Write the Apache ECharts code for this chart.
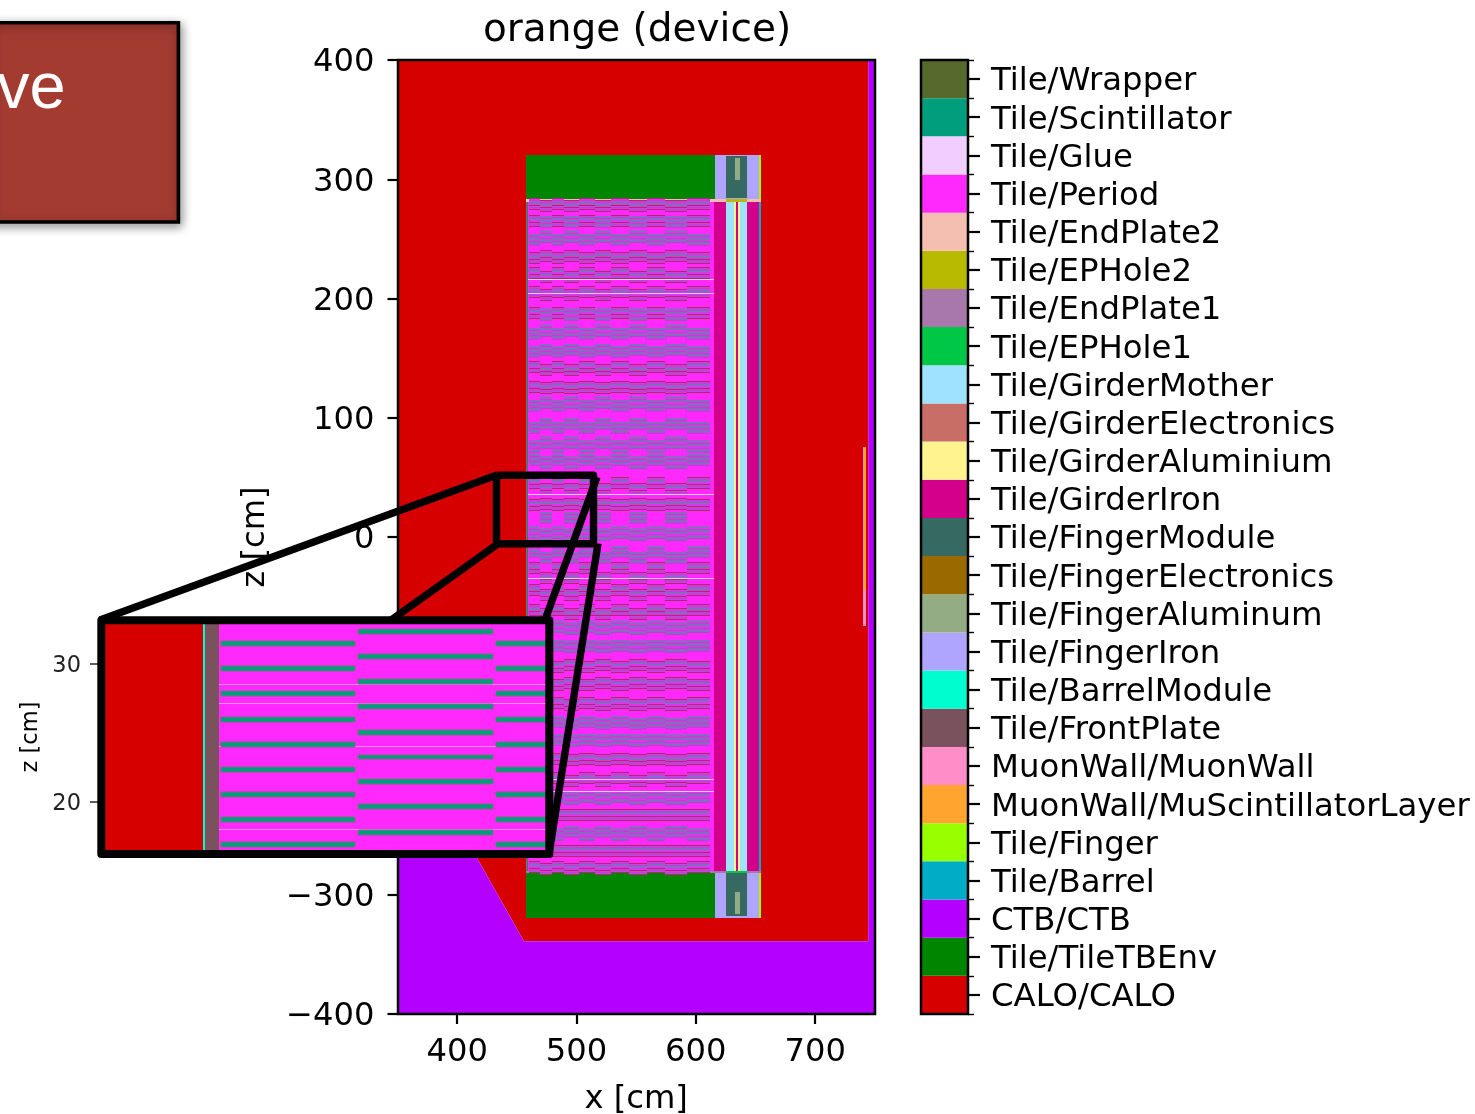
<!DOCTYPE html>
<html>
<head>
<meta charset="utf-8">
<style>html,body{margin:0;padding:0;background:#fff;overflow:hidden}#c{width:1475px;height:1114px}</style>
<script src="https://cdn.jsdelivr.net/npm/echarts@6/dist/echarts.min.js"></script>
</head>
<body>
<div id="c"></div>
<script>
// Colour bar, bottom to top
const materials = ['CALO/CALO','Tile/TileTBEnv','CTB/CTB','Tile/Barrel','Tile/Finger','MuonWall/MuScintillatorLayer','MuonWall/MuonWall','Tile/FrontPlate','Tile/BarrelModule','Tile/FingerIron','Tile/FingerAluminum','Tile/FingerElectronics','Tile/FingerModule','Tile/GirderIron','Tile/GirderAluminium','Tile/GirderElectronics','Tile/GirderMother','Tile/EPHole1','Tile/EndPlate1','Tile/EPHole2','Tile/EndPlate2','Tile/Period','Tile/Glue','Tile/Scintillator','Tile/Wrapper'];
const materialColors = ['#d60000','#008500','#b300ff','#00acc6','#97ff00','#ffa52f','#ff8ec8','#79525e','#00fdcf','#afa5ff','#93ac83','#9a6900','#366962','#d3008c','#fdf490','#c86e66','#9ee2ff','#00c846','#a877ac','#b8ba01','#f4bfb1','#ff28fd','#f2cdff','#009e7c','#566a2e'];
const shades = {teal:'#3c9a9a', purple:'#a64fc4', red:'#b02a6a', edgeA:'#1e9b6e', edgeB:'#a0408c', tint:'#d838ea', seam:'#fb8dfb'};

// Main view outlines [x, z]
const caloPolygon = [[350,400],[744.5,400],[744.5,-339],[456,-339],[350,-151]];
const ctbPolygon = [[350,-151],[456,-339],[744.5,-339],[744.5,400],[750,400],[750,-400],[350,-400]];

// Main view solids [x0, x1, z0, z1, material]
const solids = [
 [457.8,616.2,283.6,320.3,'Tile/TileTBEnv'],
 [457.8,616.2,-319.2,-282,'Tile/TileTBEnv'],
 [616.2,653.2,283.6,320.3,'Tile/FingerIron'],
 [616.2,653.2,-319.2,-282,'Tile/FingerIron'],
 [625.5,643,284,319.5,'Tile/FingerModule'],
 [625.5,643,-317.5,-282,'Tile/FingerModule'],
 [633,637.3,299,318,'Tile/FingerAluminum'],
 [633,637.3,-316,-298,'Tile/FingerAluminum'],
 [653.2,654.8,283.6,320.3,'Tile/Finger'],
 [653.2,654.8,-319.2,-282,'Tile/Finger'],
 [457.8,654.8,281.2,283.6,'Tile/EndPlate2'],
 [625.5,643,281.2,283.6,'Tile/EPHole2'],
 [457.8,654.8,-282,-279.7,'Tile/EndPlate1'],
 [625.5,643,-282,-279.7,'Tile/EPHole1'],
 [459.5,615.4,-279.7,281.2,'Tile/Period'],
 [615.4,625.5,-279.7,281.2,'Tile/GirderIron'],
 [625.5,643,-279.7,281.2,'Tile/GirderMother'],
 [632.2,633.5,-279.7,281.2,'Tile/GirderAluminium'],
 [633.5,635.2,-279.7,281.2,'Tile/GirderIron'],
 [635.2,637,-279.7,281.2,'Tile/GirderAluminium'],
 [643,653.2,-279.7,281.2,'Tile/GirderIron'],
 [653.2,654.8,-279.7,281.2,'Tile/Barrel'],
 [740.3,742.6,-74.6,75.5,'MuonWall/MuonWall'],
 [741,742.6,-44.4,75.5,'MuonWall/MuScintillatorLayer']
];
const mainEdgeStrips = [[457.8,458.6,-279.7,281.2,'edgeA'],[458.6,459.5,-279.7,281.2,'edgeB']];
const glueSeams = [215.7,204,35.8,-34.8,-203,-213];

// Main view scintillator columns (x edges, cm) and line groups (z centres, cm)
const columnsA = [[460.1,469.6],[479.6,489.9],[502.5,515.7],[528.9,543.6],[559.1,573.8],[592.6,612.1]];
const columnsB = [[469.6,479.6],[489.9,502.5],[515.7,528.9],[543.6,559.1],[573.8,592.6]];
const groupsA = [279.2,265,249,234,221.4,205.5,187.8,170.2,155.1,142.6,125.8,109.9,91.5,75.5,64.6,45.3,26.8,3.4,-12.6,-26,-44.4,-61.2,-75.5,-91.4,-109,-124.1,-139.2,-155.1,-170.2,-186.2,-202.1,-218,-233.1,-249.9,-263.3,-276.7];
const groupsB = [277.6,264.2,251.6,235.6,218,202.9,186.2,172.7,156.8,140,124.9,112.4,94.8,78.8,62.1,40.3,27.7,15.9,1.7,-17.6,-34.4,-48.6,-64.6,-77.1,-92.2,-107.3,-122.4,-140.9,-156.8,-171.1,-187,-204.6,-219.7,-233.1,-247.4,-263.3,-278.4];
const toneA = [1,1,0,1,1,1,1,0,0,1,1,0,0,0,0,1,1,0,0,1,1,1,0,0,1,1,1,0,0,1,1,0,1,0,1,1];
const toneB = [1,0,0,1,1,1,0,0,0,1,1,0,0,0,0,1,1,0,0,0,1,1,1,0,0,1,1,1,0,0,1,1,0,1,0,1,1];
const groupLineOffsets = [-4.55,-2.73,-0.91,0.91,2.73,4.55];
const toneShades = [['purple','teal','purple','teal','purple','teal'],['red','purple','red','teal','purple','red']];

// Inset solids and rows
const insetSolids = [
 [450.6,458,16.23,33.19,'CALO/CALO'],
 [458,458.145,16.23,33.19,'Tile/BarrelModule'],
 [458.145,459.16,16.23,33.19,'Tile/FrontPlate'],
 [459.16,483.07,16.23,33.19,'Tile/Period']
];
const insetSeamZ = [28.5,27.12,24,18.04];
const insetColumnsA = [[459.3,469],[479.2,483.07]];
const insetColumnsB = [[469.2,479]];
const insetRowsA = [31.47,29.64,27.83,26.01,24.2,22.37,20.56,18.75,16.9];
const insetRowsB = [32.39,30.56,28.75,26.9,25.07,23.26,21.45,19.64,17.8];
const insetRowThickness = 0.36;

const colorOf = Object.fromEntries(materials.map((m,i)=>[m,materialColors[i]]));
const FONT = 'DejaVu Sans';

// Assemble rectangle tables
const mainRows = solids.map(r=>[r[0],r[1],r[2],r[3],colorOf[r[4]]]);
mainEdgeStrips.forEach(r=>mainRows.push([r[0],r[1],r[2],r[3],shades[r[4]]]));
function addGroups(groups, tones, cols){
  groups.forEach((z,i)=>{
    cols.forEach(c=>mainRows.push([c[0],c[1],z-5,z+5,shades.tint]));
    groupLineOffsets.forEach((o,k)=>{
      cols.forEach(c=>mainRows.push([c[0],c[1],z+o-0.4,z+o+0.4,shades[toneShades[tones[i]][k]],1]));
    });
  });
}
addGroups(groupsA,toneA,columnsA);
addGroups(groupsB,toneB,columnsB);
glueSeams.forEach(z=>mainRows.push([459.5,615.4,z-0.4,z+0.4,colorOf['Tile/Glue'],1]));

const insetRows = insetSolids.map(r=>[r[0],r[1],r[2],r[3],colorOf[r[4]]]);
insetSeamZ.forEach(z=>insetRows.push([459.16,483.07,z-0.03,z+0.03,shades.seam,1]));
insetRowsA.forEach(z=>insetColumnsA.forEach(c=>insetRows.push([c[0],c[1],z-insetRowThickness/2,z+insetRowThickness/2,colorOf['Tile/Scintillator'],2])));
insetRowsB.forEach(z=>insetColumnsB.forEach(c=>insetRows.push([c[0],c[1],z-insetRowThickness/2,z+insetRowThickness/2,colorOf['Tile/Scintillator'],2])));

function rectRenderer(rows){
  return function(p, api){
    const r = rows[p.dataIndex];
    const a = api.coord([r[0],r[3]]), b = api.coord([r[1],r[2]]);
    let x0=Math.round(a[0]), x1=Math.round(b[0]), y0=Math.round(a[1]), y1=Math.round(b[1]);
    if(x1<=x0) x1=x0+1;
    if(y1<=y0) y1=y0+1;
    const cs=p.coordSys;
    const shape=echarts.graphic.clipRectByRect({x:x0,y:y0,width:x1-x0,height:y1-y0},{x:cs.x,y:cs.y,width:cs.width,height:cs.height});
    if(!shape) return null;
    const style={fill:r[4]};
    if(r[5]===2){style.stroke='#7f6a80';style.lineWidth=1;}
    return {type:'rect',shape,style,silent:true};
  };
}
function rectSeries(rows,gi,z){
  return {type:'custom',xAxisIndex:gi,yAxisIndex:gi,z,silent:true,animation:false,
    renderItem:rectRenderer(rows),
    encode:{x:[0,1],y:[2,3]},
    data:rows.map(r=>[r[0],r[1],r[2],r[3]])};
}
function polySeries(points,color,z){
  return {type:'custom',xAxisIndex:0,yAxisIndex:0,z,silent:true,animation:false,
    renderItem:function(p,api){
      if(p.dataIndex!==0) return null;
      return {type:'polygon',shape:{points:points.map(q=>api.coord(q))},style:{fill:color}};
    },
    encode:{x:0,y:1},
    data:points};
}
const minus = v=>'{a|'+String(v).replace('-','\u2212')+'}';
const black = '#000';
const chart = echarts.init(document.getElementById('c'),null,{renderer:'canvas',width:1475,height:1114});
const LW=7.4;
const richLabel=(size,color,top)=>({a:{fontFamily:FONT,fontSize:size,color,padding:[top,0,0,0]}});
chart.setOption({
  animation:false,
  backgroundColor:'#fff',
  textStyle:{fontFamily:FONT},
  title:{text:'orange (device)',left:632,top:6,textAlign:'center',textStyle:{fontFamily:FONT,fontSize:39,fontWeight:'normal',color:black}},
  grid:[
    {left:397.5,top:60,width:477.3,height:954,containLabel:false,outerBoundsMode:'none'},
    {left:101,top:620,width:448,height:234,containLabel:false,outerBoundsMode:'none'},
    {left:921,top:60,width:47,height:954,containLabel:false,outerBoundsMode:'none'}
  ],
  xAxis:[
    {gridIndex:0,type:'value',min:350,max:750,z:3,name:'x [cm]',nameLocation:'middle',nameGap:70,
     nameTextStyle:{fontFamily:FONT,fontSize:32.2,color:black},
     axisLine:{show:false,onZero:false},splitLine:{show:false},
     axisTick:{show:true,length:10,lineStyle:{color:black,width:2.2},customValues:[400,500,600,700]},
     axisLabel:{fontFamily:FONT,fontSize:32.2,color:black,margin:23,customValues:[400,500,600,700]}},
    {gridIndex:1,type:'value',min:450.6,max:483.07,show:false},
    {gridIndex:2,type:'value',min:0,max:1,show:false}
  ],
  yAxis:[
    {gridIndex:0,type:'value',min:-400,max:400,interval:100,z:3,name:'z [cm]',nameLocation:'middle',nameGap:126,nameRotate:90,
     nameTextStyle:{fontFamily:FONT,fontSize:32.2,color:black},
     axisLine:{show:false,onZero:false},splitLine:{show:false},
     axisTick:{show:true,length:10,lineStyle:{color:black,width:2.2}},
     axisLabel:{margin:23,formatter:minus,rich:richLabel(32.2,black,6)}},
    {gridIndex:1,type:'value',min:16.23,max:33.19,z:21,name:'z [cm]',nameLocation:'middle',nameGap:58,nameRotate:90,
     nameTextStyle:{fontFamily:FONT,fontSize:22.5,color:black},
     axisLine:{show:false,onZero:false},splitLine:{show:false},
     axisTick:{show:true,length:11,lineStyle:{color:'#333',width:1.6},customValues:[20,30]},
     axisLabel:{margin:20,formatter:minus,rich:richLabel(22.5,'#222',4),customValues:[20,30]}},
    {gridIndex:2,type:'category',data:materials,position:'right',z:3,
     axisLine:{show:false,onZero:false},
     axisTick:{show:true,alignWithLabel:true,length:12,lineStyle:{color:black,width:2.2}},
     axisLabel:{margin:23,interval:0,formatter:'{a|{value}}',rich:richLabel(32.35,black,6)}},
    {gridIndex:2,type:'value',min:0,max:25,interval:1,position:'right',z:3,
     axisLine:{show:false,onZero:false},splitLine:{show:false},
     axisTick:{show:true,length:6,lineStyle:{color:black,width:1.4}},
     axisLabel:{show:false}}
  ],
  series:[
    polySeries(caloPolygon,colorOf['CALO/CALO'],2),
    polySeries(ctbPolygon,colorOf['CTB/CTB'],2),
    rectSeries(mainRows,0,2),
    rectSeries(insetRows,1,20),
    {type:'bar',xAxisIndex:2,yAxisIndex:2,barWidth:'100%',z:2,silent:true,animation:false,
     data:materials.map((m,i)=>({value:1,itemStyle:{color:materialColors[i]}}))}
  ],
  graphic:{elements:[
    {type:'rect',z:4,silent:true,shape:{x:398,y:60,width:477,height:954},style:{fill:'none',stroke:black,lineWidth:2.5}},
    {type:'rect',z:4,silent:true,shape:{x:921,y:60,width:47,height:954},style:{fill:'none',stroke:black,lineWidth:2.5}},
    {type:'polyline',z:10,silent:true,shape:{points:[[496.5,475.3],[593.5,475.3],[593.5,543.7],[496.5,543.7],[496.5,475.3]]},style:{fill:'none',stroke:black,lineWidth:LW,lineJoin:'round'}},
    {type:'line',z:10,silent:true,shape:{x1:100,y1:620,x2:497,y2:475},style:{stroke:black,lineWidth:LW}},
    {type:'line',z:10,silent:true,shape:{x1:300,y1:685,x2:497,y2:544.5},style:{stroke:black,lineWidth:LW}},
    {type:'line',z:10,silent:true,shape:{x1:597,y1:477,x2:545,y2:620},style:{stroke:black,lineWidth:LW}},
    {type:'line',z:10,silent:true,shape:{x1:598,y1:543.5,x2:549,y2:854},style:{stroke:black,lineWidth:LW}},
    {type:'rect',z:25,silent:true,shape:{x:101.3,y:620.3,width:448,height:233.7},style:{fill:'none',stroke:black,lineWidth:8,lineJoin:'round'}},
    {type:'rect',z:30,silent:true,shape:{x:-10,y:22.7,width:188.4,height:199.3},
      style:{fill:'#a33b31',stroke:black,lineWidth:3.6,shadowBlur:10,shadowOffsetX:2,shadowOffsetY:3,shadowColor:'rgba(0,0,0,0.4)'}},
    {type:'text',z:31,silent:true,style:{x:-3,y:58,text:'ve',fill:'#fff',font:'65px "Liberation Sans"',textAlign:'left'}}
  ]}
});
</script>
</body>
</html>
